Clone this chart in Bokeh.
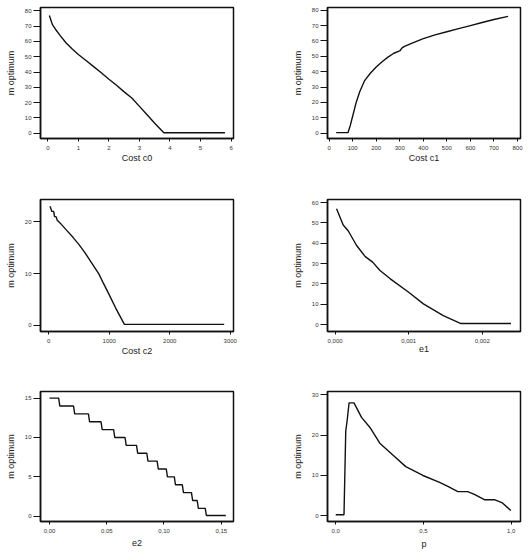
from bokeh.plotting import figure
from bokeh.layouts import gridplot
from bokeh.models import Range1d, FixedTicker
from bokeh.embed import file_html
from bokeh.resources import INLINE

# ---------------- data ----------------
c0 = [0.05, 0.1, 0.15, 0.25, 0.4, 0.6, 0.8, 1.0, 1.25, 1.5, 1.75, 2.0, 2.25, 2.5,
      2.75, 3.0, 3.25, 3.5, 3.8, 4.0, 4.5, 5.0, 5.5, 5.8]
m_c0 = [77, 74, 71, 68, 64, 59, 55, 51.5, 47.5, 43.5, 39.5, 35.3, 31.3, 27,
        23, 17.5, 12, 6.5, 0.3, 0.3, 0.3, 0.3, 0.3, 0.3]

c1 = [30, 50, 80, 90, 100, 115, 130, 150, 175, 200, 225, 250, 275, 300, 310,
      320, 350, 400, 450, 500, 550, 600, 650, 700, 760]
m_c1 = [0.3, 0.3, 0.3, 5, 11, 20, 27, 34, 39, 43, 46.5, 49.5, 52, 53.5, 55.5,
        56.5, 58.5, 61.5, 64, 66, 68, 70, 72, 74, 76]

c2 = [20, 35, 50, 80, 95, 120, 140, 165, 200, 300, 400, 500, 600, 700, 825,
      900, 1000, 1100, 1250, 1500, 2000, 2500, 2900]
m_c2 = [23, 22.5, 22, 22, 21, 21, 20.3, 20, 19.6, 18.3, 17, 15.6, 14, 12.2, 10,
        8.2, 5.9, 3.5, 0.2, 0.2, 0.2, 0.2, 0.2]

e1 = [0.00002, 0.00011, 0.00018, 0.00029, 0.00041, 0.00051, 0.00061, 0.00075,
      0.0010, 0.0012, 0.00147, 0.00171, 0.0020, 0.00239]
m_e1 = [57, 49, 46, 39, 33.4, 30.7, 26.6, 22.5, 15.9, 10.2, 4.4, 0.5, 0.5, 0.5]

e2 = [0.0, 0.008, 0.009, 0.021, 0.022, 0.034, 0.035, 0.045, 0.046, 0.056,
      0.057, 0.066, 0.067, 0.076, 0.077, 0.085, 0.086, 0.094, 0.095, 0.102,
      0.103, 0.109, 0.110, 0.116, 0.117, 0.124, 0.125, 0.129, 0.130, 0.136,
      0.137, 0.154]
m_e2 = [15, 15, 14, 14, 13, 13, 12, 12, 11, 11, 10, 10, 9, 9, 8, 8, 7, 7, 6, 6,
        5, 5, 4, 4, 3, 3, 2, 2, 1, 1, 0.1, 0.1]

p_vals = [0.0, 0.047, 0.057, 0.066, 0.076, 0.104, 0.147, 0.195, 0.251, 0.327,
          0.399, 0.497, 0.592, 0.639, 0.696, 0.752, 0.79, 0.847, 0.904, 0.95, 0.998]
m_p = [0.25, 0.25, 21, 24, 28, 28, 24.4, 21.9, 18, 15, 12.2, 10, 8.3, 7.3, 6,
       6, 5.3, 4, 4, 3.2, 1.3]

# tick values and labels
c0_ticks = [0, 1, 2, 3, 4, 5, 6]
c0_labels = ["0", "1", "2", "3", "4", "5", "6"]
c1_ticks = [0, 100, 200, 300, 400, 500, 600, 700, 800]
c1_labels = ["0", "100", "200", "300", "400", "500", "600", "700", "800"]
c2_ticks = [0, 1000, 2000, 3000]
c2_labels = ["0", "1000", "2000", "3000"]
e1_ticks = [0, 0.001, 0.002]
e1_labels = ["0,000", "0,001", "0,002"]
e2_ticks = [0, 0.05, 0.10, 0.15]
e2_labels = ["0,00", "0,05", "0,10", "0,15"]
p_ticks = [0, 0.5, 1.0]
p_labels = ["0,0", "0,5", "1,0"]

y80_ticks = [0, 10, 20, 30, 40, 50, 60, 70, 80]
y20_ticks = [0, 10, 20]
y60_ticks = [0, 10, 20, 30, 40, 50, 60]
y15_ticks = [0, 5, 10, 15]
y30_ticks = [0, 10, 20, 30]

x_titles = ["Cost c0", "Cost c1", "Cost c2", "e1", "e2", "p"]
y_title = "m optimum"

FONT = "Liberation Sans"


def panel(x, y, xr, yr, xt, xl, yt, xtitle, w, h, bl, br, bt, bb, xstand):
    p = figure(width=w, height=h, output_backend="svg", toolbar_location=None,
               x_range=Range1d(*xr), y_range=Range1d(*yr),
               min_border_left=bl, min_border_right=br,
               min_border_top=bt, min_border_bottom=bb)
    p.line(x, y, line_color="#111111", line_width=1.4)
    p.grid.visible = False
    p.outline_line_color = "#111111"
    p.outline_line_width = 1.5
    p.outline_line_alpha = 1
    p.background_fill_color = "white"
    p.border_fill_color = "white"

    xa = p.xaxis[0]
    xa.ticker = FixedTicker(ticks=xt)
    xa.major_label_overrides = {t: s for t, s in zip(xt, xl)}
    xa.major_tick_out = 3
    xa.major_tick_in = 0
    xa.minor_tick_out = 0
    xa.minor_tick_in = 0
    xa.major_label_standoff = 4
    xa.axis_label = xtitle
    xa.axis_label_standoff = xstand

    ya = p.yaxis[0]
    ya.ticker = FixedTicker(ticks=yt)
    ya.major_tick_out = 7
    ya.major_tick_in = 0
    ya.minor_tick_out = 0
    ya.minor_tick_in = 0
    ya.major_label_standoff = 2
    ya.major_label_orientation = "horizontal"
    ya.axis_label = y_title
    ya.axis_label_standoff = 6

    for a in (xa, ya):
        a.axis_line_color = "#111111"
        a.axis_line_width = 1.5
        a.major_tick_line_color = "#111111"
        a.major_tick_line_width = 1
        a.major_label_text_font = FONT
        a.major_label_text_font_size = "6px"
        a.major_label_text_color = "#333333"
        a.axis_label_text_font = FONT
        a.axis_label_text_font_size = "9px"
        a.axis_label_text_font_style = "normal"
        a.axis_label_text_color = "#222222"
    return p


W = 266
rows = [(185, 7, 47), (192, 14, 46), (177, 14, 33)]
colb = [(40, 33), (61, 12)]

p1 = panel(c0, m_c0, (-0.24, 6.08), (-3.5, 82.2), c0_ticks, c0_labels, y80_ticks,
           x_titles[0], W, rows[0][0], colb[0][0], colb[0][1], rows[0][1], rows[0][2], 0)
p2 = panel(c1, m_c1, (-6.8, 812.8), (-3.5, 81.8), c1_ticks, c1_labels, y80_ticks,
           x_titles[1], W, rows[0][0], colb[1][0], colb[1][1], rows[0][1], rows[0][2], 0)
p3 = panel(c2, m_c2, (-137, 3054), (-1.17, 24.3), c2_ticks, c2_labels, y20_ticks,
           x_titles[2], W, rows[1][0], colb[0][0], colb[0][1], rows[1][1], rows[1][2], 0)
p4 = panel(e1, m_e1, (-0.000103, 0.002519), (-3.4, 61.5), e1_ticks, e1_labels, y60_ticks,
           x_titles[3], W, rows[1][0], colb[1][0], colb[1][1], rows[1][1], rows[1][2], 0)
p5 = panel(e2, m_e2, (-0.00785, 0.1607), (-0.67, 15.84), e2_ticks, e2_labels, y15_ticks,
           x_titles[4], W, rows[2][0], colb[0][0], colb[0][1], rows[2][1], rows[2][2], 4)
p6 = panel(p_vals, m_p, (-0.047, 1.053), (-1.41, 30.82), p_ticks, p_labels, y30_ticks,
           x_titles[5], W, rows[2][0], colb[1][0], colb[1][1], rows[2][1], rows[2][2], 3)

grid = gridplot([[p1, p2], [p3, p4], [p5, p6]], toolbar_location=None)

open("out.html", "w").write(file_html(grid, INLINE))
